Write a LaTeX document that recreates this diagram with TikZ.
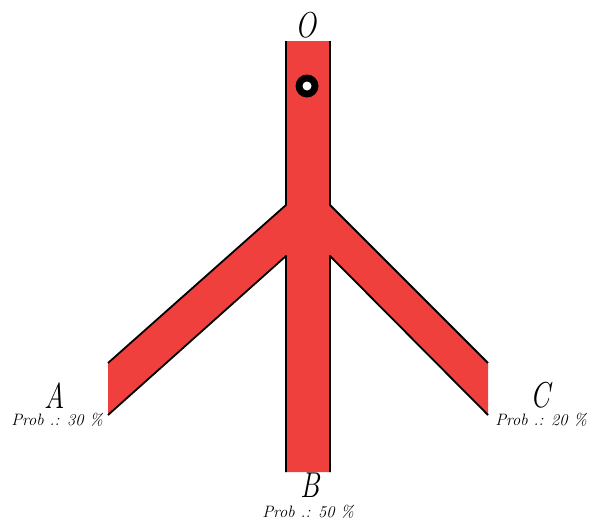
\documentclass[tikz,border=0pt]{standalone}
\definecolor{tubered}{RGB}{240,64,62}
\begin{document}
\begin{tikzpicture}[x=1pt,y=-1pt,
  bigletter/.style={font=\fontsize{36}{36}\selectfont\itshape, inner sep=0pt},
  probtext/.style={font=\fontsize{16.5}{16.5}\selectfont\itshape, inner sep=0pt},
  tubeedge/.style={line width=1.8pt, line join=round, draw=black}]
\useasboundingbox (0,0) rectangle (592,522);
% outline points
\coordinate (t1) at (286,41);
\coordinate (j1) at (286,205);
\coordinate (a1) at (108,363);
\coordinate (a2) at (108,415);
\coordinate (j2) at (286,256);
\coordinate (b1) at (286,472);
\coordinate (b2) at (330,472);
\coordinate (j3) at (330,256);
\coordinate (c2) at (488,415);
\coordinate (c1) at (488,363);
\coordinate (j4) at (330,205);
\coordinate (t2) at (330,41);
\fill[tubered] (t1) -- (j1) -- (a1) -- (a2) -- (j2) -- (b1) -- (b2) -- (j3) -- (c2) -- (c1) -- (j4) -- (t2) -- cycle;
\draw[tubeedge] (t1) -- (j1) -- (a1);
\draw[tubeedge] (a2) -- (j2) -- (b1);
\draw[tubeedge] (b2) -- (j3) -- (c2);
\draw[tubeedge] (c1) -- (j4) -- (t2);
% hole
\coordinate (hole) at (307,86);
\fill[black] (hole) circle (11.5pt);
\fill[white] (hole) circle (4.5pt);
% labels
\node[bigletter] (O) at (306,25) {\scalebox{0.78}[1]{O}};
\node[bigletter] (A) at (55,396) {\scalebox{0.78}[1]{A}};
\node[bigletter] (B) at (310,485.5) {\scalebox{0.78}[1]{B}};
\node[bigletter] (C) at (540,395) {\scalebox{0.78}[1]{C}};
\node[probtext] (pA) at (57,420) {Prob .: 30 \%};
\node[probtext] (pB) at (308,512) {Prob .: 50 \%};
\node[probtext] (pC) at (541,420) {Prob .: 20 \%};
\end{tikzpicture}
\end{document}
